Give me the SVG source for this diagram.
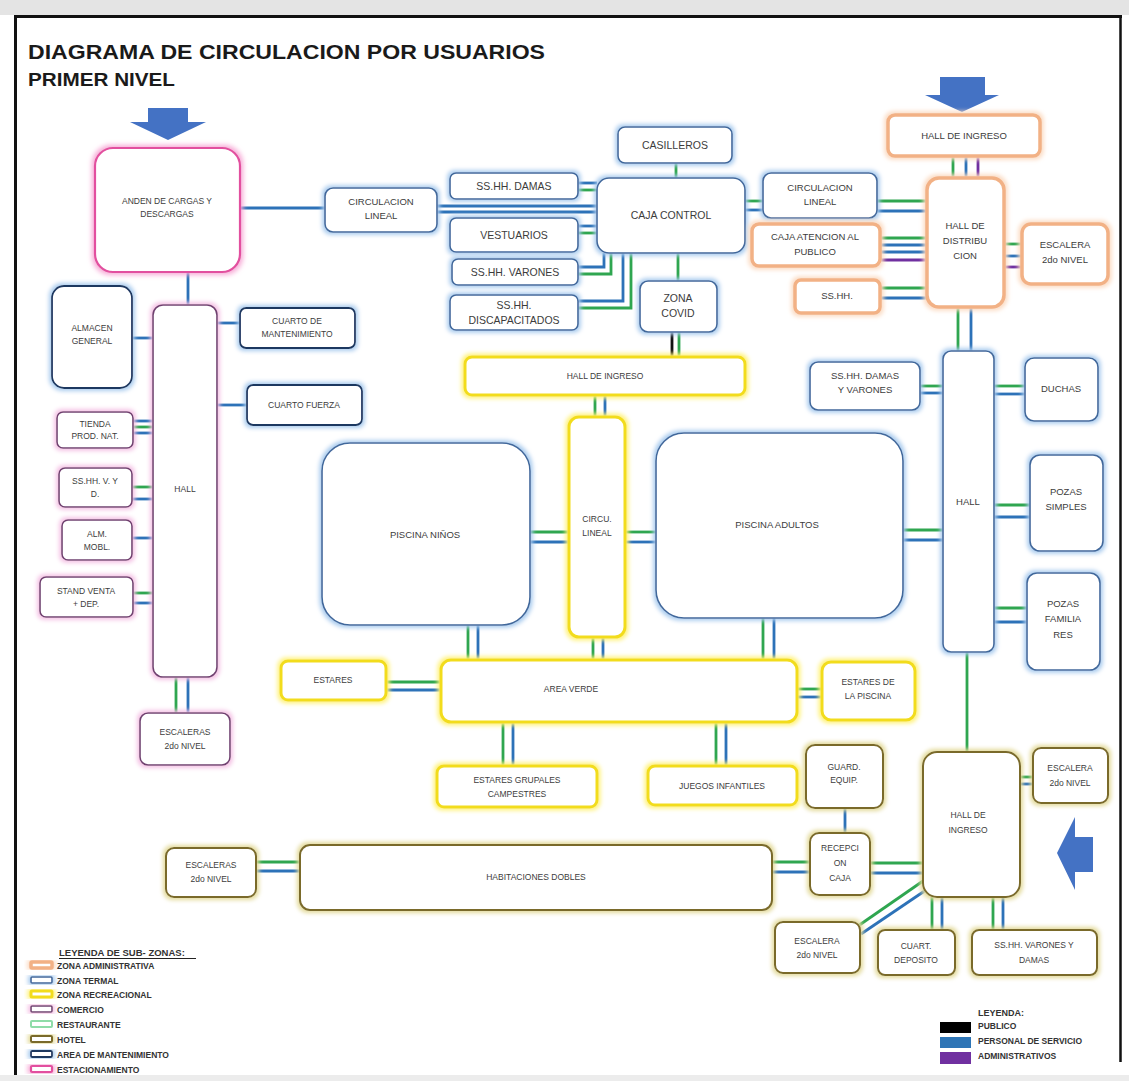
<svg xmlns="http://www.w3.org/2000/svg" width="1129" height="1081" viewBox="0 0 1129 1081">
<style>
text{font-family:"Liberation Sans",Arial,sans-serif;font-size:9.5px;fill:#3c3c3c;text-anchor:middle}
.t{font-size:10.5px}
.s{font-size:8.5px}
.title{font-weight:bold;fill:#1a1a1a;text-anchor:start}
g > rect{fill:#fff}
.termal rect{stroke:#41679b;stroke-width:1.6;filter:url(#gB)}
.admin rect{stroke:#f2b185;stroke-width:3.5;filter:url(#gO)}
.recre rect{stroke:#f2dc1e;stroke-width:3;filter:url(#gY)}
.comer rect{stroke:#6f4170;stroke-width:1.6;filter:url(#gP)}
.mant rect{stroke:#1f3760;stroke-width:1.8;filter:url(#gB)}
.estac rect{stroke:#e2509f;stroke-width:2.2;filter:url(#gM)}
.hotel rect{stroke:#7a6a2c;stroke-width:2;filter:url(#gH)}
#connectors line,#connectors path{fill:none;stroke-width:2.8}
.g{stroke:#2fa650}.b{stroke:#2d72b8}.p{stroke:#7030a0}.k{stroke:#111}
.arrow{fill:#4472c4}
.leg{text-anchor:start;font-size:8.5px;font-weight:bold;fill:#333}
</style>
<defs>
<filter id="gB" x="-30%" y="-30%" width="160%" height="160%"><feMorphology in="SourceAlpha" operator="dilate" radius="1.5" result="d"/><feGaussianBlur in="d" stdDeviation="2" result="bl"/><feFlood flood-color="#a9cbee"/><feComposite in2="bl" operator="in" result="gl"/><feMerge><feMergeNode in="gl"/><feMergeNode in="SourceGraphic"/></feMerge></filter>
<filter id="gO" x="-30%" y="-30%" width="160%" height="160%"><feMorphology in="SourceAlpha" operator="dilate" radius="1.5" result="d"/><feGaussianBlur in="d" stdDeviation="2" result="bl"/><feFlood flood-color="#fbdcc4"/><feComposite in2="bl" operator="in" result="gl"/><feMerge><feMergeNode in="gl"/><feMergeNode in="SourceGraphic"/></feMerge></filter>
<filter id="gY" x="-30%" y="-30%" width="160%" height="160%"><feMorphology in="SourceAlpha" operator="dilate" radius="1.5" result="d"/><feGaussianBlur in="d" stdDeviation="2" result="bl"/><feFlood flood-color="#fff27a"/><feComposite in2="bl" operator="in" result="gl"/><feMerge><feMergeNode in="gl"/><feMergeNode in="SourceGraphic"/></feMerge></filter>
<filter id="gP" x="-30%" y="-30%" width="160%" height="160%"><feMorphology in="SourceAlpha" operator="dilate" radius="1.5" result="d"/><feGaussianBlur in="d" stdDeviation="2" result="bl"/><feFlood flood-color="#f4c0e4"/><feComposite in2="bl" operator="in" result="gl"/><feMerge><feMergeNode in="gl"/><feMergeNode in="SourceGraphic"/></feMerge></filter>
<filter id="gM" x="-30%" y="-30%" width="160%" height="160%"><feMorphology in="SourceAlpha" operator="dilate" radius="2" result="d"/><feGaussianBlur in="d" stdDeviation="2.5" result="bl"/><feFlood flood-color="#f7a9d6"/><feComposite in2="bl" operator="in" result="gl"/><feMerge><feMergeNode in="gl"/><feMergeNode in="SourceGraphic"/></feMerge></filter>
<filter id="gH" x="-30%" y="-30%" width="160%" height="160%"><feMorphology in="SourceAlpha" operator="dilate" radius="1.5" result="d"/><feGaussianBlur in="d" stdDeviation="2" result="bl"/><feFlood flood-color="#e3da9a"/><feComposite in2="bl" operator="in" result="gl"/><feMerge><feMergeNode in="gl"/><feMergeNode in="SourceGraphic"/></feMerge></filter>
</defs>

<!-- frame -->
<rect x="0" y="0" width="1129" height="1081" style="fill:#fff"/>
<rect x="0" y="0" width="1129" height="15" style="fill:#e4e4e4"/>
<line x1="14" y1="16.5" x2="1122" y2="16.5" stroke="#111" stroke-width="3"/>
<line x1="15.5" y1="16" x2="15.5" y2="1076" stroke="#111" stroke-width="3"/>
<line x1="1120.5" y1="16" x2="1120.5" y2="1062" stroke="#111" stroke-width="2.5"/>
<rect x="0" y="1075" width="1129" height="6" style="fill:#ececec"/>

<text class="title" x="28" y="59" style="font-size:21px" textLength="517" lengthAdjust="spacingAndGlyphs">DIAGRAMA DE CIRCULACION POR USUARIOS</text>
<text class="title" x="28" y="86" style="font-size:18px" textLength="147" lengthAdjust="spacingAndGlyphs">PRIMER NIVEL</text>

<polygon class="arrow" points="148,108 188,108 188,122 206,122 168,140 130,122 148,122"/>
<polygon class="arrow" points="940,77 985,77 985,95 999,95 962,112 925,95 940,95"/>
<polygon class="arrow" points="1093,837 1075,837 1075,817 1057,853 1075,890 1075,872 1093,872"/>

<g id="connectors">
<line class="b" x1="240" y1="208" x2="325" y2="208"/>
<line class="b" x1="188" y1="272" x2="188" y2="305"/>
<line class="b" x1="437" y1="206" x2="597" y2="206"/>
<line class="b" x1="437" y1="212" x2="597" y2="212"/>
<line class="b" x1="578" y1="183" x2="597" y2="183"/>
<line class="g" x1="578" y1="190" x2="597" y2="190"/>
<line class="b" x1="578" y1="226" x2="597" y2="226"/>
<line class="g" x1="578" y1="233" x2="597" y2="233"/>
<path class="b" d="M578,267 H604 V253"/>
<path class="g" d="M578,274 H611 V253"/>
<path class="b" d="M578,301 H623 V253"/>
<path class="g" d="M578,308 H631 V253"/>
<line class="g" x1="676" y1="163" x2="676" y2="178"/>
<line class="g" x1="678" y1="253" x2="678" y2="281"/>
<line class="k" x1="672" y1="332" x2="672" y2="357"/>
<line class="g" x1="679" y1="332" x2="679" y2="357"/>
<line class="g" x1="745" y1="201" x2="763" y2="201"/>
<line class="b" x1="745" y1="210" x2="763" y2="210"/>
<line class="g" x1="877" y1="201" x2="927" y2="201"/>
<line class="b" x1="877" y1="211" x2="927" y2="211"/>
<line class="g" x1="953" y1="156" x2="953" y2="178"/>
<line class="b" x1="966" y1="156" x2="966" y2="178"/>
<line class="p" x1="978" y1="156" x2="978" y2="178"/>
<line class="g" x1="880" y1="238" x2="927" y2="238"/>
<line class="b" x1="880" y1="245" x2="927" y2="245"/>
<line class="b" x1="880" y1="252" x2="927" y2="252"/>
<line class="p" x1="880" y1="260" x2="927" y2="260"/>
<line class="g" x1="1004" y1="244" x2="1022" y2="244"/>
<line class="b" x1="1004" y1="256" x2="1022" y2="256"/>
<line class="p" x1="1004" y1="267" x2="1022" y2="267"/>
<line class="g" x1="880" y1="288" x2="927" y2="288"/>
<line class="b" x1="880" y1="298" x2="927" y2="298"/>
<line class="g" x1="958" y1="307" x2="958" y2="351"/>
<line class="b" x1="971" y1="307" x2="971" y2="351"/>
<line class="b" x1="132" y1="338" x2="153" y2="338"/>
<line class="b" x1="217" y1="323" x2="240" y2="323"/>
<line class="b" x1="217" y1="405" x2="247" y2="405"/>
<line class="b" x1="133" y1="421" x2="153" y2="421"/>
<line class="g" x1="133" y1="427" x2="153" y2="427"/>
<line class="b" x1="133" y1="433" x2="153" y2="433"/>
<line class="g" x1="132" y1="487" x2="153" y2="487"/>
<line class="b" x1="132" y1="499" x2="153" y2="499"/>
<line class="b" x1="132" y1="538" x2="153" y2="538"/>
<line class="g" x1="133" y1="593" x2="153" y2="593"/>
<line class="b" x1="133" y1="603" x2="153" y2="603"/>
<line class="g" x1="176" y1="677" x2="176" y2="713"/>
<line class="b" x1="188" y1="677" x2="188" y2="713"/>
<line class="g" x1="595" y1="395" x2="595" y2="417"/>
<line class="b" x1="605" y1="395" x2="605" y2="417"/>
<line class="g" x1="530" y1="532" x2="569" y2="532"/>
<line class="b" x1="530" y1="542" x2="569" y2="542"/>
<line class="g" x1="625" y1="532" x2="656" y2="532"/>
<line class="b" x1="625" y1="542" x2="656" y2="542"/>
<line class="g" x1="468" y1="625" x2="468" y2="660"/>
<line class="b" x1="478" y1="625" x2="478" y2="660"/>
<line class="g" x1="593" y1="637" x2="593" y2="660"/>
<line class="b" x1="603" y1="637" x2="603" y2="660"/>
<line class="g" x1="763" y1="618" x2="763" y2="660"/>
<line class="b" x1="774" y1="618" x2="774" y2="660"/>
<line class="g" x1="903" y1="530" x2="943" y2="530"/>
<line class="b" x1="903" y1="540" x2="943" y2="540"/>
<line class="g" x1="920" y1="386" x2="943" y2="386"/>
<line class="b" x1="920" y1="393" x2="943" y2="393"/>
<line class="g" x1="994" y1="386" x2="1025" y2="386"/>
<line class="b" x1="994" y1="394" x2="1025" y2="394"/>
<line class="g" x1="994" y1="505" x2="1030" y2="505"/>
<line class="b" x1="994" y1="517" x2="1030" y2="517"/>
<line class="g" x1="994" y1="608" x2="1027" y2="608"/>
<line class="b" x1="994" y1="622" x2="1027" y2="622"/>
<line class="g" x1="967" y1="652" x2="967" y2="752"/>
<line class="g" x1="386" y1="682" x2="441" y2="682"/>
<line class="b" x1="386" y1="690" x2="441" y2="690"/>
<line class="g" x1="797" y1="689" x2="822" y2="689"/>
<line class="b" x1="797" y1="697" x2="822" y2="697"/>
<line class="g" x1="503" y1="722" x2="503" y2="766"/>
<line class="b" x1="513" y1="722" x2="513" y2="766"/>
<line class="g" x1="716" y1="722" x2="716" y2="766"/>
<line class="b" x1="726" y1="722" x2="726" y2="766"/>
<line class="b" x1="845" y1="808" x2="845" y2="833"/>
<line class="g" x1="256" y1="862" x2="300" y2="862"/>
<line class="b" x1="256" y1="871" x2="300" y2="871"/>
<line class="g" x1="772" y1="862" x2="810" y2="862"/>
<line class="b" x1="772" y1="872" x2="810" y2="872"/>
<line class="g" x1="870" y1="863" x2="923" y2="863"/>
<line class="b" x1="870" y1="873" x2="923" y2="873"/>
<line class="g" x1="1020" y1="777" x2="1033" y2="777"/>
<line class="b" x1="1020" y1="784" x2="1033" y2="784"/>
<line class="g" x1="923" y1="881" x2="858" y2="926"/>
<line class="b" x1="926" y1="890" x2="861" y2="934"/>
<line class="g" x1="932" y1="897" x2="932" y2="930"/>
<line class="b" x1="942" y1="897" x2="942" y2="930"/>
<line class="g" x1="993" y1="897" x2="993" y2="930"/>
<line class="b" x1="1003" y1="897" x2="1003" y2="930"/>
</g>

<g id="anden" class="estac"><rect x="95" y="148" width="145" height="124" rx="18"/><text class="s" x="167" y="204">ANDEN DE CARGAS Y</text><text class="s" x="167" y="217">DESCARGAS</text></g>
<g id="circ1" class="termal"><rect x="325" y="188" width="112" height="44" rx="8"/><text x="381" y="205">CIRCULACION</text><text x="381" y="219">LINEAL</text></g>
<g id="almacen" class="mant"><rect x="52" y="286" width="80" height="102" rx="12"/><text class="s" x="92" y="331">ALMACEN</text><text class="s" x="92" y="344">GENERAL</text></g>
<g id="hall1" class="comer"><rect x="153" y="305" width="64" height="372" rx="10"/><text class="s" x="185" y="492">HALL</text></g>
<g id="cuarto_mant" class="mant"><rect x="240" y="308" width="115" height="40" rx="6"/><text class="s" x="297" y="324">CUARTO DE</text><text class="s" x="297" y="337">MANTENIMIENTO</text></g>
<g id="cuarto_fuerza" class="mant"><rect x="247" y="385" width="115" height="40" rx="6"/><text class="s" x="304" y="408">CUARTO FUERZA</text></g>
<g id="tienda" class="comer"><rect x="57" y="412" width="76" height="36" rx="6"/><text class="s" x="95" y="427">TIENDA</text><text class="s" x="95" y="439">PROD. NAT.</text></g>
<g id="sshh_vyd" class="comer"><rect x="59" y="468" width="73" height="39" rx="6"/><text class="s" x="95" y="484">SS.HH. V. Y</text><text class="s" x="95" y="497">D.</text></g>
<g id="alm_mobl" class="comer"><rect x="62" y="520" width="70" height="40" rx="6"/><text class="s" x="97" y="537">ALM.</text><text class="s" x="97" y="550">MOBL.</text></g>
<g id="stand" class="comer"><rect x="40" y="577" width="93" height="40" rx="6"/><text class="s" x="86" y="594">STAND VENTA</text><text class="s" x="86" y="607">+ DEP.</text></g>
<g id="esc1" class="comer"><rect x="140" y="713" width="90" height="52" rx="8"/><text class="s" x="185" y="735">ESCALERAS</text><text class="s" x="185" y="749">2do NIVEL</text></g>

<g id="sshh_damas" class="termal"><rect x="450" y="173" width="128" height="26" rx="6"/><text class="t" x="514" y="190">SS.HH. DAMAS</text></g>
<g id="vestuarios" class="termal"><rect x="450" y="218" width="128" height="34" rx="6"/><text class="t" x="514" y="239">VESTUARIOS</text></g>
<g id="sshh_varones" class="termal"><rect x="452" y="259" width="126" height="26" rx="6"/><text class="t" x="515" y="276">SS.HH. VARONES</text></g>
<g id="sshh_disc" class="termal"><rect x="450" y="295" width="128" height="35" rx="6"/><text class="t" x="514" y="309">SS.HH.</text><text class="t" x="514" y="324">DISCAPACITADOS</text></g>
<g id="caja" class="termal"><rect x="597" y="178" width="148" height="75" rx="12"/><text class="t" x="671" y="219">CAJA CONTROL</text></g>
<g id="casilleros" class="termal"><rect x="618" y="127" width="114" height="36" rx="7"/><text class="t" x="675" y="149">CASILLEROS</text></g>
<g id="covid" class="termal"><rect x="640" y="281" width="77" height="51" rx="8"/><text class="t" x="678" y="302">ZONA</text><text class="t" x="678" y="317">COVID</text></g>

<g id="circ2" class="termal"><rect x="763" y="173" width="114" height="45" rx="8"/><text x="820" y="191">CIRCULACION</text><text x="820" y="205">LINEAL</text></g>
<g id="hall_ing_adm" class="admin"><rect x="888" y="115" width="152" height="41" rx="7"/><text x="964" y="139">HALL DE INGRESO</text></g>
<g id="hall_dist" class="admin"><rect x="927" y="178" width="77" height="129" rx="12"/><text x="965" y="229">HALL DE</text><text x="965" y="244">DISTRIBU</text><text x="965" y="259">CION</text></g>
<g id="caja_at" class="admin"><rect x="752" y="224" width="128" height="42" rx="7"/><text x="815" y="240">CAJA ATENCION AL</text><text x="815" y="255">PUBLICO</text></g>
<g id="sshh_adm" class="admin"><rect x="795" y="280" width="85" height="33" rx="6"/><text x="837" y="299">SS.HH.</text></g>
<g id="esc_adm" class="admin"><rect x="1022" y="224" width="86" height="60" rx="9"/><text x="1065" y="248">ESCALERA</text><text x="1065" y="263">2do NIVEL</text></g>

<g id="hall_ing_rec" class="recre"><rect x="465" y="357" width="280" height="38" rx="7"/><text class="s" x="605" y="379">HALL DE INGRESO</text></g>
<g id="circu" class="recre"><rect x="569" y="417" width="56" height="220" rx="10"/><text class="s" x="597" y="522">CIRCU.</text><text class="s" x="597" y="536">LINEAL</text></g>
<g id="pn" class="termal"><rect x="322" y="443" width="208" height="182" rx="28"/><text x="425" y="538">PISCINA NIÑOS</text></g>
<g id="pa" class="termal"><rect x="656" y="433" width="247" height="185" rx="28"/><text x="777" y="528">PISCINA ADULTOS</text></g>
<g id="hall2" class="termal"><rect x="943" y="351" width="51" height="301" rx="8"/><text x="968" y="505">HALL</text></g>
<g id="sshh_dyv" class="termal"><rect x="810" y="362" width="110" height="48" rx="8"/><text x="865" y="379">SS.HH. DAMAS</text><text x="865" y="393">Y VARONES</text></g>
<g id="duchas" class="termal"><rect x="1025" y="358" width="73" height="63" rx="9"/><text x="1061" y="392">DUCHAS</text></g>
<g id="pozas_s" class="termal"><rect x="1030" y="455" width="73" height="96" rx="10"/><text x="1066" y="495">POZAS</text><text x="1066" y="510">SIMPLES</text></g>
<g id="pozas_f" class="termal"><rect x="1027" y="573" width="73" height="97" rx="10"/><text x="1063" y="607">POZAS</text><text x="1063" y="622">FAMILIA</text><text x="1063" y="638">RES</text></g>

<g id="estares" class="recre"><rect x="281" y="661" width="105" height="39" rx="7"/><text class="s" x="333" y="683">ESTARES</text></g>
<g id="av" class="recre"><rect x="441" y="660" width="356" height="62" rx="10"/><text class="s" x="571" y="692">AREA VERDE</text></g>
<g id="estares_p" class="recre"><rect x="822" y="662" width="93" height="58" rx="9"/><text class="s" x="868" y="685">ESTARES DE</text><text class="s" x="868" y="699">LA PISCINA</text></g>
<g id="estares_g" class="recre"><rect x="437" y="766" width="160" height="41" rx="7"/><text class="s" x="517" y="783">ESTARES GRUPALES</text><text class="s" x="517" y="797">CAMPESTRES</text></g>
<g id="juegos" class="recre"><rect x="648" y="766" width="149" height="39" rx="7"/><text class="s" x="722" y="789">JUEGOS INFANTILES</text></g>

<g id="guard" class="hotel"><rect x="806" y="745" width="77" height="63" rx="9"/><text class="s" x="844" y="770">GUARD.</text><text class="s" x="844" y="783">EQUIP.</text></g>
<g id="recep" class="hotel"><rect x="810" y="833" width="60" height="62" rx="9"/><text class="s" x="840" y="851">RECEPCI</text><text class="s" x="840" y="866">ON</text><text class="s" x="840" y="881">CAJA</text></g>
<g id="hall3" class="hotel"><rect x="923" y="752" width="97" height="145" rx="14"/><text class="s" x="968" y="818">HALL DE</text><text class="s" x="968" y="833">INGRESO</text></g>
<g id="esc_h1" class="hotel"><rect x="1033" y="748" width="75" height="55" rx="8"/><text class="s" x="1070" y="771">ESCALERA</text><text class="s" x="1070" y="786">2do NIVEL</text></g>
<g id="hab" class="hotel"><rect x="300" y="845" width="472" height="65" rx="10"/><text class="s" x="536" y="880">HABITACIONES DOBLES</text></g>
<g id="esc_h2" class="hotel"><rect x="166" y="848" width="90" height="49" rx="8"/><text class="s" x="211" y="868">ESCALERAS</text><text class="s" x="211" y="882">2do NIVEL</text></g>
<g id="esc_h3" class="hotel"><rect x="775" y="922" width="85" height="51" rx="8"/><text class="s" x="817" y="944">ESCALERA</text><text class="s" x="817" y="958">2do NIVEL</text></g>
<g id="cuart" class="hotel"><rect x="878" y="930" width="77" height="45" rx="7"/><text class="s" x="916" y="949">CUART.</text><text class="s" x="916" y="963">DEPOSITO</text></g>
<g id="sshh_h" class="hotel"><rect x="972" y="930" width="125" height="45" rx="7"/><text class="s" x="1034" y="948">SS.HH. VARONES Y</text><text class="s" x="1034" y="963">DAMAS</text></g>

<g id="legend-zonas">
<text class="leg" x="59" y="956" style="font-size:9.5px">LEYENDA DE SUB- ZONAS:</text>
<line x1="59" y1="958.5" x2="196" y2="958.5" stroke="#222" stroke-width="1"/>
<g class="admin"><rect x="31" y="962" width="21" height="6" rx="1"/></g><text class="leg" x="57" y="969">ZONA ADMINISTRATIVA</text>
<g class="termal"><rect x="31" y="977" width="21" height="6" rx="1"/></g><text class="leg" x="57" y="984">ZONA TERMAL</text>
<g class="recre"><rect x="31" y="991" width="21" height="6" rx="1"/></g><text class="leg" x="57" y="998">ZONA RECREACIONAL</text>
<g class="comer"><rect x="31" y="1006" width="21" height="6" rx="1"/></g><text class="leg" x="57" y="1013">COMERCIO</text>
<g><rect x="31" y="1021" width="21" height="6" rx="1" stroke="#8fdca8" stroke-width="2"/></g><text class="leg" x="57" y="1028">RESTAURANTE</text>
<g class="hotel"><rect x="31" y="1036" width="21" height="6" rx="1"/></g><text class="leg" x="57" y="1043">HOTEL</text>
<g class="mant"><rect x="31" y="1051" width="21" height="6" rx="1"/></g><text class="leg" x="57" y="1058">AREA DE MANTENIMIENTO</text>
<g class="estac"><rect x="31" y="1066" width="21" height="6" rx="1"/></g><text class="leg" x="57" y="1073">ESTACIONAMIENTO</text>
</g>

<g id="legend-usuarios">
<text class="leg" x="978" y="1016" style="font-size:9px">LEYENDA:</text>
<rect x="940" y="1022" width="31" height="11" style="fill:#000"/><text class="leg" x="978" y="1029">PUBLICO</text>
<rect x="940" y="1037" width="31" height="11" style="fill:#2e75b6"/><text class="leg" x="978" y="1044">PERSONAL DE SERVICIO</text>
<rect x="940" y="1052" width="31" height="12" style="fill:#7030a0"/><text class="leg" x="978" y="1059">ADMINISTRATIVOS</text>
</g>
</svg>
